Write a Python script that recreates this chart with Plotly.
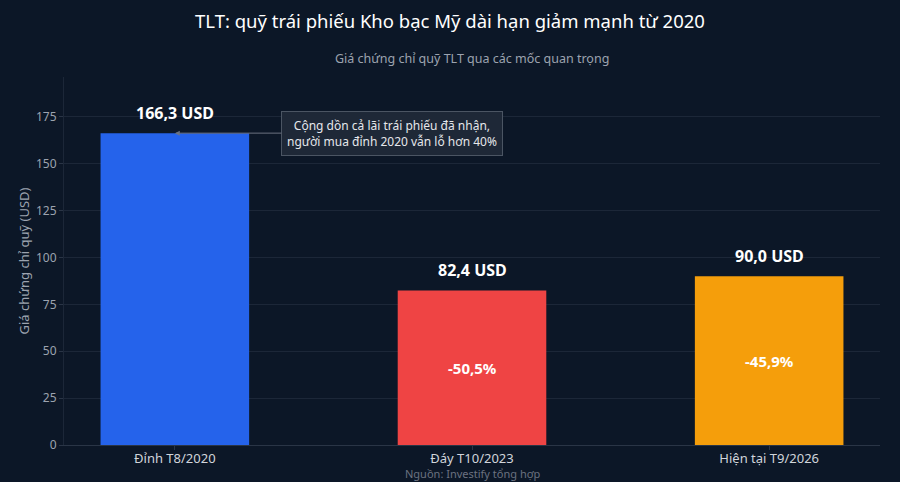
import plotly.graph_objects as go

# dữ liệu
moc = ["Đỉnh T8/2020", "Đáy T10/2023", "Hiện tại T9/2026"]
gia = [166.3, 82.4, 90.0]
thay_doi = [None, "-50,5%", "-45,9%"]
mau = ["#2563eb", "#ef4444", "#f59e0b"]

nhan = [f"{v:.1f}".replace(".", ",") + " USD" for v in gia]

bg = "#0c1727"
font = "Noto Sans"

fig = go.Figure()
fig.add_trace(go.Bar(
    x=moc, y=gia, marker=dict(color=mau, line=dict(width=0)), width=0.5,
    hoverinfo="skip",
))

# nhãn giá trên đầu cột + phần trăm giảm giữa cột
for m, v, n, t in zip(moc, gia, nhan, thay_doi):
    fig.add_annotation(x=m, y=v, text=f"<b>{n}</b>", showarrow=False, yanchor="bottom",
                       yshift=7, font=dict(family=font, size=16, color="white"))
    if t:
        fig.add_annotation(x=m, y=v / 2, text=f"<b>{t}</b>", showarrow=False,
                           font=dict(family=font, size=15, color="white"))

fig.add_annotation(
    x=moc[0], y=gia[0], ax=217, ay=0,
    text="Cộng dồn cả lãi trái phiếu đã nhận,<br>người mua đỉnh 2020 vẫn lỗ hơn 40%",
    showarrow=True, arrowhead=2, arrowsize=1, arrowwidth=1, arrowcolor="#6b7280",
    font=dict(family=font, size=12, color="#e5e7eb"),
    bgcolor="#1e2837", bordercolor="#4b5563", borderwidth=1, borderpad=5,
)

fig.add_annotation(
    x=0.5, y=-0.078, xref="paper", yref="paper", yanchor="middle",
    text="Nguồn: Investify tổng hợp", showarrow=False,
    font=dict(family=font, size=11, color="#6b7280"),
)
fig.add_annotation(
    x=0.5, y=1.022, xref="paper", yref="paper", yanchor="bottom",
    text="Giá chứng chỉ quỹ TLT qua các mốc quan trọng", showarrow=False,
    font=dict(family=font, size=12.5, color="#9ca3af"),
)

fig.update_layout(
    width=900, height=482,
    paper_bgcolor=bg, plot_bgcolor=bg,
    font=dict(family=font, color="#9ca3af", size=12),
    title=dict(
        text="TLT: quỹ trái phiếu Kho bạc Mỹ dài hạn giảm mạnh từ 2020",
        x=0.5, xanchor="center", y=0.955, yanchor="middle",
        font=dict(family=font, size=18.5, color="white"),
    ),
    margin=dict(l=64, r=20, t=77, b=37, autoexpand=False),
    showlegend=False,
)
fig.update_xaxes(range=[-0.373, 2.373], showgrid=False, linecolor="#2a3546",
                 ticks="outside", ticklen=4, tickcolor="#2a3546", ticklabelstandoff=-3,
                 tickfont=dict(size=13, color="#d1d5db"), automargin=False)
fig.update_yaxes(range=[0, gia[0] * 1.18], dtick=25, gridcolor="#1c2738", zeroline=False,
                 showline=True, linecolor="#1c2738", ticks="outside", ticklen=4, tickcolor="#2a3546",
                 title=dict(text="Giá chứng chỉ quỹ (USD)", font=dict(size=13, color="#9ca3af"),
                            standoff=3),
                 tickfont=dict(size=12, color="#9ca3af"), automargin=False)

fig.write_html("out.html", config={"displayModeBar": False},
               post_script="document.body.style.margin='0';document.body.style.overflow='hidden';")
